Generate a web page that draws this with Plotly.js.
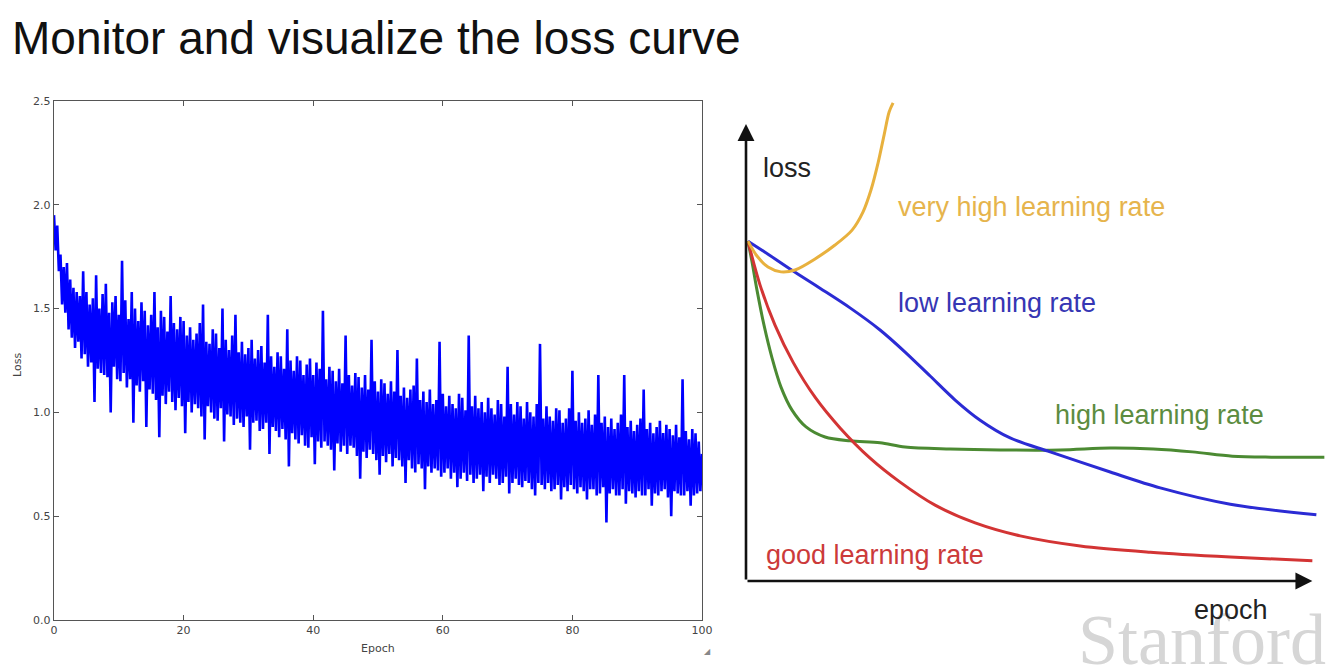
<!DOCTYPE html>
<html>
<head>
<meta charset="utf-8">
<script src="https://cdn.plot.ly/plotly-3.0.1.min.js"></script>
<style>
  html, body { margin: 0; padding: 0; background: #fff; }
  #plot { width: 1336px; height: 668px; }
</style>
</head>
<body>
<div id="plot"></div>
<script>
// left panel: training loss, one value every quarter epoch
const EPOCH_STEP = 0.25;
const loss = [
  1.95, 1.78, 1.90, 1.68,  1.76, 1.52, 1.70, 1.48,  1.72, 1.40, 1.64, 1.36,  1.60, 1.31, 1.58, 1.34,
  1.56, 1.26, 1.68, 1.28,  1.58, 1.22, 1.52, 1.24,  1.55, 1.05, 1.66, 1.21,  1.50, 1.19, 1.57, 1.18,
  1.62, 1.17, 1.48, 1.00,  1.53, 1.22, 1.56, 1.16,  1.47, 1.15, 1.73, 1.19,  1.54, 1.12, 1.45, 1.16,
  1.58, 0.95, 1.50, 1.13,  1.44, 1.10, 1.53, 1.15,  1.49, 0.93, 1.42, 1.11,  1.47, 1.09, 1.58, 1.06,
  1.41, 0.88, 1.49, 1.08,  1.46, 1.04, 1.39, 1.10,  1.56, 1.05, 1.43, 1.01,  1.40, 1.07, 1.46, 1.03,
  1.44, 0.90, 1.37, 1.05,  1.41, 1.00, 1.35, 1.04,  1.38, 1.02, 1.43, 0.98,  1.52, 0.87, 1.34, 1.03,
  1.33, 1.00, 1.40, 0.97,  1.38, 0.96, 1.31, 1.02,  1.50, 0.86, 1.35, 0.99,  1.30, 0.98, 1.37, 0.94,
  1.47, 0.97, 1.29, 0.95,  1.34, 0.93, 1.28, 0.98,  1.31, 0.82, 1.35, 0.95,  1.26, 0.96, 1.30, 0.91,
  1.32, 0.92, 1.24, 0.95,  1.47, 0.80, 1.27, 0.93,  1.22, 0.91, 1.29, 0.88,  1.27, 0.92, 1.21, 0.87,
  1.40, 0.74, 1.25, 0.90,  1.20, 0.87, 1.27, 0.85,  1.25, 0.89, 1.18, 0.84,  1.23, 0.83, 1.26, 0.88,
  1.18, 0.75, 1.24, 0.86,  1.21, 0.83, 1.49, 0.86,  1.16, 0.84, 1.22, 0.82,  1.20, 0.72, 1.15, 0.85,
  1.21, 0.81, 1.14, 0.84,  1.37, 0.80, 1.18, 0.84,  1.13, 0.83, 1.19, 0.79,  1.17, 0.68, 1.12, 0.81,
  1.18, 0.78, 1.11, 0.82,  1.35, 0.80, 1.15, 0.77,  1.10, 0.70, 1.16, 0.79,  1.14, 0.76, 1.09, 0.80,
  1.15, 0.74, 1.10, 0.78,  1.30, 0.77, 1.08, 0.74,  1.12, 0.66, 1.07, 0.77,  1.11, 0.73, 1.13, 0.71,
  1.26, 0.75, 1.06, 0.73,  1.10, 0.63, 1.05, 0.74,  1.11, 0.71, 1.04, 0.73,  1.06, 0.72, 1.34, 0.69,
  1.09, 0.71, 1.03, 0.73,  1.08, 0.68, 1.04, 0.71,  1.02, 0.64, 1.09, 0.68,  1.07, 0.71, 1.01, 0.67,
  1.37, 0.70, 1.03, 0.66,  1.08, 0.68, 1.02, 0.70,  1.05, 0.62, 1.00, 0.69,  1.07, 0.66, 1.02, 0.70,
  0.99, 0.68, 1.06, 0.65,  1.04, 0.66, 0.98, 0.69,  1.22, 0.61, 1.04, 0.66,  0.99, 0.68, 1.05, 0.65,
  1.03, 0.64, 0.97, 0.67,  1.05, 0.66, 1.00, 0.63,  0.98, 0.60, 1.04, 0.66,  1.33, 0.65, 0.97, 0.63,
  1.03, 0.66, 0.98, 0.62,  0.96, 0.63, 1.02, 0.65,  1.01, 0.58, 0.95, 0.64,  0.97, 0.62, 1.02, 0.65,
  1.20, 0.63, 0.96, 0.61,  1.00, 0.64, 0.95, 0.62,  0.97, 0.58, 1.01, 0.63,  0.94, 0.63, 0.99, 0.60,
  1.18, 0.61, 0.95, 0.64,  0.98, 0.47, 0.93, 0.61,  0.97, 0.63, 0.92, 0.60,  0.95, 0.60, 0.99, 0.63,
  1.18, 0.56, 0.93, 0.62,  0.96, 0.61, 0.91, 0.59,  0.94, 0.62, 0.97, 0.60,  1.11, 0.60, 0.92, 0.63,
  0.95, 0.55, 0.90, 0.61,  0.93, 0.60, 0.96, 0.62,  0.90, 0.63, 0.94, 0.59,  0.92, 0.50, 0.89, 0.62,
  0.94, 0.61, 0.88, 0.60,  1.16, 0.60, 0.91, 0.62,  0.87, 0.55, 0.92, 0.60,  0.90, 0.61, 0.86, 0.62,
  0.80
];

// right panel: sketched curves, epoch (0-100) vs loss (0-100, arbitrary units)
const veryHighX = [0.35, 1.94, 3.89, 6.18, 8.66, 12.19, 15.72, 18.73, 20.67, 22.08, 23.32, 24.38, 25.27, 25.97];
const veryHighY = [70.8, 67.7, 65.4, 64.4, 64.8, 67.1, 70.0, 73.1, 76.9, 81.5, 87.1, 92.9, 97.7, 99.6];

const lowX = [0.35, 3.36, 7.77, 13.07, 18.37, 23.67, 28.09, 32.51, 36.93, 41.34, 46.64, 53.71, 64.31, 73.14, 85.51, 100.71];
const lowY = [70.8, 68.5, 65.0, 61.0, 56.9, 52.3, 47.7, 42.7, 37.7, 33.5, 29.8, 26.9, 22.7, 19.4, 16.0, 13.8];

const highX = [0.35, 1.06, 1.94, 3.18, 4.59, 6.18, 8.13, 10.60, 13.96, 18.37, 23.67, 28.09, 36.04, 44.88, 55.48, 64.31, 71.91, 78.80, 85.87, 92.76, 102.12];
const highY = [70.8, 66.5, 60.6, 53.3, 46.5, 40.4, 35.6, 32.1, 30.0, 29.2, 28.8, 27.9, 27.5, 27.3, 27.3, 27.7, 27.5, 26.9, 26.0, 25.8, 25.8];

const goodX = [0.35, 2.47, 5.12, 8.30, 12.19, 16.61, 21.91, 27.21, 33.39, 40.46, 48.41, 59.01, 71.38, 85.51, 100.0];
const goodY = [70.8, 61.7, 53.3, 45.6, 38.3, 31.9, 25.6, 20.6, 15.8, 12.1, 9.4, 7.3, 6.0, 5.0, 4.2];

const COL_YELLOW = '#e8b13e';
const COL_BLUE   = '#2b2bd4';
const COL_GREEN  = '#4b8a32';
const COL_RED    = '#d33434';

const SANS  = 'Liberation Sans, Arial, sans-serif';
const MPL   = 'DejaVu Sans, sans-serif';

function sketch( x, y, color ) {
	return {
		x: x, y: y, xaxis: 'x2', yaxis: 'y2',
		mode: 'lines', line: { color: color, width: 3, shape: 'spline', smoothing: 0.9 },
		hoverinfo: 'skip'
	};
}

var traces = [
	{
		y: loss, x0: 0, dx: EPOCH_STEP,
		mode: 'lines', line: { color: '#0000ff', width: 2.6, simplify: false },
		xaxis: 'x', yaxis: 'y'
	},
	sketch( highX, highY, COL_GREEN ),
	sketch( goodX, goodY, COL_RED ),
	sketch( lowX, lowY, COL_BLUE ),
	sketch( veryHighX, veryHighY, COL_YELLOW )
];

var frame = {
	showline: true, mirror: 'ticks', linecolor: '#555', linewidth: 1.2,
	ticks: 'inside', ticklen: 5, tickcolor: '#555',
	showgrid: false, zeroline: false,
	tickfont: { family: MPL, size: 11, color: '#444' }
};

function label( text, x, y, color ) {
	return {
		text: text, x: x, y: y, xref: 'x2', yref: 'y2',
		xanchor: 'left', yanchor: 'middle', showarrow: false,
		font: { family: SANS, size: 27, color: color }
	};
}

var layout = {
	width: 1336, height: 668,
	margin: { l: 0, r: 0, t: 0, b: 0 },
	paper_bgcolor: '#fff', plot_bgcolor: '#fff',
	showlegend: false,
	xaxis: Object.assign( {}, frame, {
		domain: [ 54 / 1336, 702 / 1336 ], range: [ 0, 100 ], dtick: 20, anchor: 'y'
	} ),
	yaxis: Object.assign( {}, frame, {
		domain: [ 1 - 620 / 668, 1 - 101 / 668 ], range: [ 0, 2.5 ], dtick: 0.5,
		tickformat: '.1f', anchor: 'x'
	} ),
	xaxis2: {
		domain: [ 746 / 1336, 1335 / 1336 ], range: [ 0, 104 ], visible: false, anchor: 'y2'
	},
	yaxis2: {
		domain: [ 1 - 581 / 668, 1 - 101 / 668 ], range: [ 0, 100 ], visible: false, anchor: 'x2'
	},
	annotations: [
		{
			text: 'Monitor and visualize the loss curve', xref: 'paper', yref: 'paper',
			x: 10 / 1336, y: 1 - 38 / 668, xanchor: 'left', yanchor: 'middle', showarrow: false,
			font: { family: SANS, size: 46, color: '#111' }
		},
		{
			text: 'Loss', xref: 'paper', yref: 'paper', x: 18 / 1336, y: 1 - 365 / 668,
			xanchor: 'center', yanchor: 'middle',
			textangle: -90, showarrow: false, font: { family: MPL, size: 11, color: '#444' }
		},
		{
			text: 'Epoch', xref: 'paper', yref: 'paper', x: 378 / 1336, y: 1 - 648 / 668,
			xanchor: 'center', yanchor: 'middle',
			showarrow: false, font: { family: MPL, size: 11, color: '#444' }
		},
		{
			text: '◢', xref: 'paper', yref: 'paper', x: 707 / 1336, y: 1 - 651 / 668,
			xanchor: 'center', yanchor: 'middle',
			showarrow: false, font: { family: MPL, size: 8, color: '#888' }
		},
		// sketch axes as arrows
		{
			x: 0, y: 95.2, ax: 0, ay: 0, xref: 'x2', yref: 'y2', axref: 'x2', ayref: 'y2',
			text: '', showarrow: true, arrowhead: 2, arrowsize: 1.3, arrowwidth: 2.6, arrowcolor: '#111'
		},
		{
			x: 100, y: 0, ax: 0, ay: 0, xref: 'x2', yref: 'y2', axref: 'x2', ayref: 'y2',
			text: '', showarrow: true, arrowhead: 2, arrowsize: 1.3, arrowwidth: 2.6, arrowcolor: '#111'
		},
		{
			text: 'Stanford', xref: 'paper', yref: 'paper', x: 1076 / 1336, y: 1 - 640 / 668,
			xanchor: 'left', yanchor: 'middle', showarrow: false,
			font: { family: 'Liberation Serif, Times New Roman, serif', size: 72, color: '#d6d6d6' }
		},
		label( 'loss', 2.6, 86.0, '#222' ),
		label( 'very high learning rate', 26.5, 77.9, '#e6b44c' ),
		label( 'low learning rate', 26.5, 57.9, '#3636b4' ),
		label( 'high learning rate', 54.2, 34.6, '#5c8c40' ),
		label( 'good learning rate', 3.1, 5.4, '#cc3a3a' ),
		{
			text: 'epoch', xref: 'paper', yref: 'paper', x: 1192 / 1336, y: 1 - 610 / 668,
			xanchor: 'left', yanchor: 'middle', showarrow: false,
			font: { family: SANS, size: 27, color: '#222' }
		}
	]
};

Plotly.newPlot( 'plot', traces, layout, { staticPlot: true } );
</script>
</body>
</html>
